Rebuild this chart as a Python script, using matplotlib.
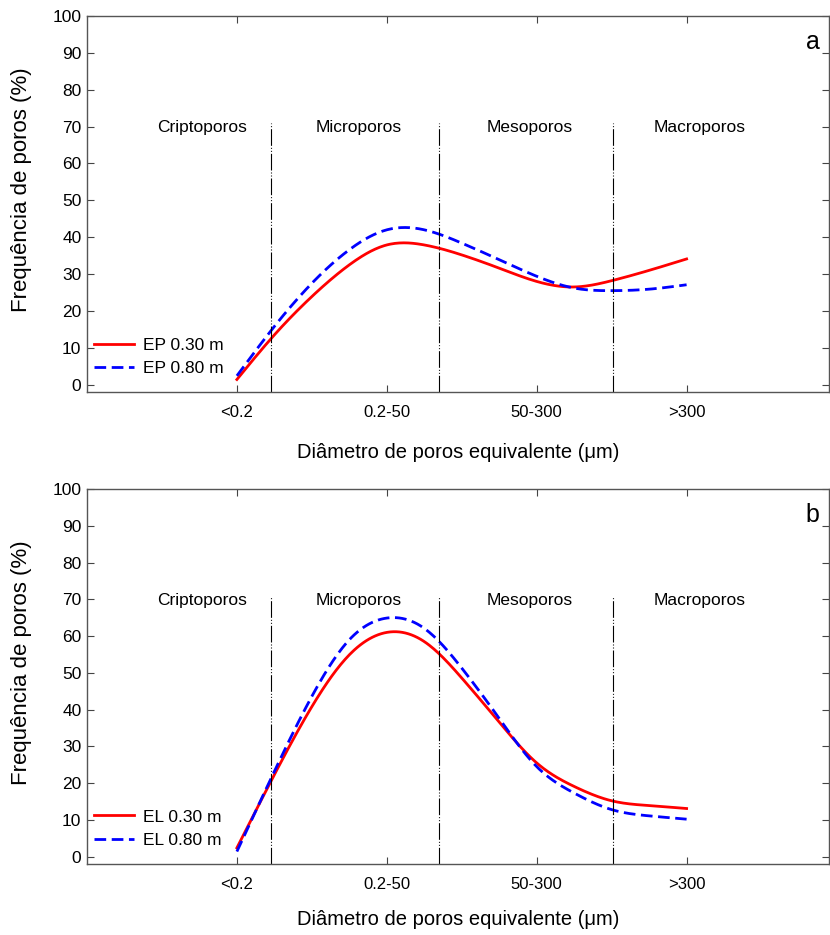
import numpy as np
import matplotlib
matplotlib.use("Agg")
import matplotlib.pyplot as plt

plt.rcParams['font.family'] = ['Liberation Sans', 'DejaVu Sans']

###############################################################################
# Data (x in category units: 1 = <0.2 ... 4 = >300)
x_pts = [1.0, 1.25, 1.5, 1.75, 2.0, 2.25, 2.5, 2.75, 3.0, 3.25, 3.5, 3.75, 4.0]

ep_030 = [1.4, 13.5, 23.9, 32.5, 37.9, 37.9, 35.2, 31.6, 28.0, 26.5, 28.2, 31.0, 34.1]
ep_080 = [2.4, 15.8, 27.5, 36.6, 42.0, 42.0, 38.4, 33.9, 29.4, 26.2, 25.5, 25.9, 27.1]

el_030 = [2.4, 22.3, 40.8, 54.9, 61.0, 58.5, 48.6, 36.6, 25.5, 19.1, 15.2, 13.9, 13.1]
el_080 = [1.4, 23.2, 43.6, 59.0, 64.9, 62.1, 51.3, 37.6, 24.5, 17.3, 12.8, 11.1, 10.2]

categories = ['<0.2', '0.2-50', '50-300', '>300']
class_names = ['Criptoporos', 'Microporos', 'Mesoporos', 'Macroporos']
class_pos = [0.77, 1.81, 2.95, 4.09]
class_limits = [1.227, 2.347, 3.507]


def smooth(x, y, n=300):
    # natural cubic spline through the read points, for drawing only
    x = np.asarray(x, float)
    y = np.asarray(y, float)
    k = len(x)
    h = np.diff(x)
    A = np.zeros((k, k))
    r = np.zeros(k)
    A[0, 0] = 1.0
    A[-1, -1] = 1.0
    for i in range(1, k - 1):
        A[i, i - 1] = h[i - 1]
        A[i, i] = 2.0 * (h[i - 1] + h[i])
        A[i, i + 1] = h[i]
        r[i] = 6.0 * ((y[i + 1] - y[i]) / h[i] - (y[i] - y[i - 1]) / h[i - 1])
    m = np.linalg.solve(A, r)
    xs = np.linspace(x[0], x[-1], n)
    idx = np.clip(np.searchsorted(x, xs) - 1, 0, k - 2)
    x0 = x[idx]
    x1 = x[idx + 1]
    hh = x1 - x0
    ys = (m[idx] * (x1 - xs) ** 3 / (6 * hh) + m[idx + 1] * (xs - x0) ** 3 / (6 * hh)
          + (y[idx] / hh - m[idx] * hh / 6) * (x1 - xs)
          + (y[idx + 1] / hh - m[idx + 1] * hh / 6) * (xs - x0))
    return xs, ys


fig = plt.figure(figsize=(8.3, 9.35), dpi=100)
ax_a = fig.add_axes([0.1048, 0.5807, 0.8940, 0.4022])
ax_b = fig.add_axes([0.1048, 0.0759, 0.8940, 0.4011])

panels = [(ax_a, ep_030, ep_080, 'EP', 'a', 17), (ax_b, el_030, el_080, 'EL', 'b', 13.5)]

for ax, s1, s2, name, tag, xpad in panels:
    xs, ys = smooth(x_pts, s1)
    ax.plot(xs, ys, color='#ff0000', lw=2.0, label=name + ' 0.30 m')
    xs, ys = smooth(x_pts, s2)
    ax.plot(xs, ys, color='#0000ff', lw=2.0, dashes=(4.2, 2.0), label=name + ' 0.80 m')

    for xl in class_limits:
        ax.plot([xl, xl], [-2, 71], color='black', lw=0.8,
                dashes=(15, 1.8, 0.9, 1.8, 0.9, 1.8))
    for nm, xp in zip(class_names, class_pos):
        ax.text(xp, 68.4, nm, ha='center', va='baseline', fontsize=12.5)
    ax.text(4.84, 93, tag, ha='center', va='center', fontsize=18)

    ax.set_xlim(0, 4.95)
    ax.set_ylim(-2, 100)
    ax.set_xticks([1, 2, 3, 4])
    ax.set_xticklabels(categories)
    ax.set_yticks(np.arange(0, 101, 10))
    ax.tick_params(direction='in', top=True, right=True,
                   length=5, width=0.8, color='#444444')
    ax.tick_params(axis='x', pad=9, labelsize=12)
    ax.tick_params(axis='y', pad=4, labelsize=12.5)
    for sp in ax.spines.values():
        sp.set_color('#555555')
        sp.set_linewidth(1.0)

    ax.set_xlabel('Diâmetro de poros equivalente (μm)', fontsize=14.5, labelpad=xpad)
    ax.set_ylabel('Frequência de poros (%)', fontsize=16)
    ax.yaxis.set_label_coords(-0.074, 0.537)
    ax.legend(loc='lower left', bbox_to_anchor=(-0.012, 0.0), frameon=False,
              fontsize=12.5, handlelength=2.3, handletextpad=0.55, labelspacing=0.5)

fig.savefig('out.png', dpi=100)
